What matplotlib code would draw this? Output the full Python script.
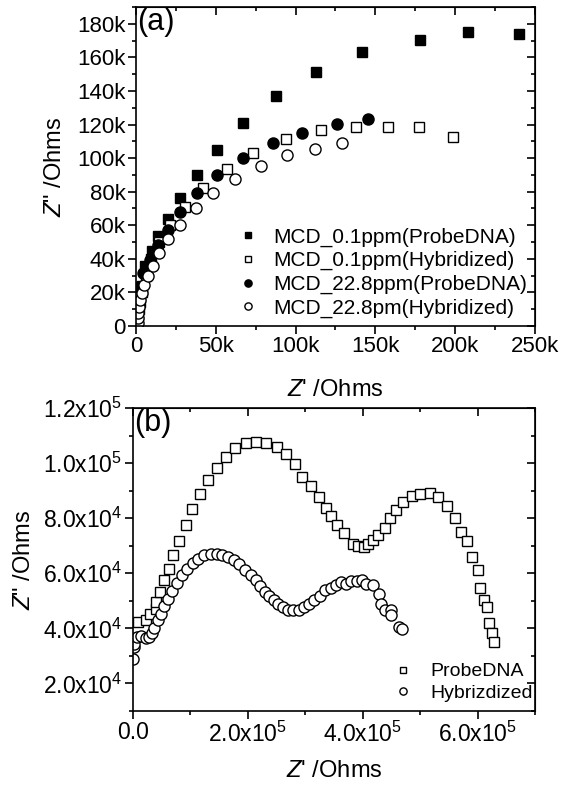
import matplotlib
matplotlib.use("Agg")
import matplotlib.pyplot as plt
from matplotlib.ticker import MultipleLocator, FuncFormatter
import numpy as np

plt.rcParams['font.family'] = ['Liberation Sans', 'DejaVu Sans']
plt.rcParams['mathtext.fontset'] = 'custom'
plt.rcParams['mathtext.rm'] = 'Liberation Sans'
plt.rcParams['mathtext.it'] = 'Liberation Sans:italic'

# --- panel (a) data, values in kOhm ---
a_sq_fill_x = [1.5, 2.5, 3.5, 5.6, 9.8, 14.0, 20.2, 27.6, 38.0, 50.8, 67.0, 87.7, 113.0, 141.4, 178.0, 207.8, 240.0]
a_sq_fill_y = [6.0, 14.0, 24.0, 35.5, 44.4, 53.4, 63.8, 76.0, 89.9, 104.7, 121.0, 137.0, 151.5, 163.0, 170.6, 175.4, 174.0]

a_sq_open_x = [2.0, 3.5, 6.0, 9.5, 14.5, 21.5, 30.7, 42.2, 56.8, 73.5, 94.0, 116.0, 137.6, 158.0, 177.5, 198.8]
a_sq_open_y = [10.0, 20.0, 30.0, 40.0, 50.0, 60.0, 71.0, 82.4, 93.7, 103.3, 111.2, 116.8, 118.8, 118.8, 118.8, 112.6]

a_ci_fill_x = [1.5, 4.6, 8.8, 13.6, 19.8, 27.6, 38.0, 50.8, 67.2, 85.6, 104.2, 125.7, 145.5]
a_ci_fill_y = [23.5, 31.5, 39.5, 48.0, 57.4, 68.0, 79.4, 89.9, 100.3, 108.9, 115.2, 120.2, 123.2]

a_ci_open_x = [1.0, 1.2, 1.5, 1.9, 2.5, 3.6, 5.0, 7.3, 10.4, 14.6, 20.2, 27.6, 37.4, 48.4, 62.0, 78.1, 94.8, 112.0, 129.4]
a_ci_open_y = [1.5, 4.5, 7.5, 11.5, 15.5, 19.9, 24.5, 29.9, 35.9, 43.5, 51.8, 60.4, 70.0, 79.4, 87.6, 95.3, 101.7, 105.6, 109.2]

a_labels = ['MCD_0.1ppm(ProbeDNA)', 'MCD_0.1ppm(Hybridized)',
            'MCD_22.8ppm(ProbeDNA)', 'MCD_22.8pm(Hybridized)']

# --- panel (b) data, values in kOhm ---
b_sq_x = [9.3, 22.0, 29.6, 39.4, 39.4, 47.0, 54.5, 62.6, 70.0, 80.0, 91.6, 103.0, 116.5, 131.0, 145.5,
          161.7, 178.5, 196.5, 213.9, 231.0, 250.0, 267.0, 283.0, 295.0, 309.5, 323.5, 335.6, 345.5,
          355.3, 367.0, 383.0, 391.8, 402.3, 409.0, 417.8, 426.5, 438.0, 448.0, 458.4, 471.0, 485.7,
          500.0, 516.5, 532.0, 546.6, 560.0, 571.6, 581.4, 590.7, 600.5, 604.6, 612.0, 616.2, 620.8,
          624.8, 628.5]
b_sq_y = [42.3, 42.9, 45.3, 47.2, 49.6, 53.2, 57.5, 61.7, 66.5, 71.7, 77.7, 83.3, 88.7, 93.8, 98.4,
          102.3, 105.6, 107.2, 107.6, 107.4, 105.9, 103.3, 99.6, 95.0, 91.6, 87.8, 83.7, 80.7,
          77.5, 74.7, 70.8, 69.8, 69.6, 70.8, 72.0, 73.8, 76.6, 80.1, 82.9, 85.9, 88.1,
          88.7, 89.0, 87.8, 84.5, 80.1, 75.0, 71.7, 65.9, 61.3, 54.8, 50.4, 47.7, 42.0,
          38.4, 35.0]

b_ci_x = [0.5, 1.0, 2.3, 6.4, 13.9, 22.0, 27.8, 32.5, 37.0, 42.9, 48.7, 54.5, 61.4, 68.4, 76.0,
          84.7, 93.4, 103.8, 113.6, 124.0, 135.0, 145.5, 155.2, 165.6, 175.6, 184.9, 194.8, 204.7,
          213.9, 222.0, 229.5, 237.0, 245.2, 252.7, 261.4, 270.0, 278.8, 289.2, 297.9, 306.6, 315.3,
          325.2, 333.9, 344.3, 353.0, 361.7, 371.6, 380.3, 390.0, 399.4, 406.3, 417.8, 427.8, 432.4,
          438.2, 448.7, 449.8, 463.0, 468.9]
b_ci_y = [29.0, 33.2, 34.4, 36.8, 37.1, 36.6, 36.8, 38.4, 40.2, 42.9, 45.3, 48.0, 50.8, 53.6, 56.5,
          59.3, 61.7, 63.7, 65.3, 66.5, 66.9, 66.9, 66.8, 65.9, 64.7, 63.2, 61.3, 59.3,
          57.5, 55.3, 53.2, 51.6, 50.2, 49.0, 47.7, 46.8, 46.5, 46.8, 47.7, 49.0, 50.2,
          51.6, 53.8, 54.8, 55.6, 56.8, 56.2, 57.2, 57.2, 57.5, 56.0, 55.6, 52.6, 48.7,
          46.8, 46.5, 44.7, 40.5, 39.6]

b_labels = ['ProbeDNA', 'Hybrizdized']

K = 1e3
TICK_FS = 16
LBL_FS = 17


def k_fmt(v, pos):
    if abs(v) < 1e-9:
        return '0'
    return f'{v / 1e3:.0f}k'


def sci_fmt(v, pos):
    if abs(v) < 1e-9:
        return '0.0'
    e = int(np.floor(np.log10(abs(v))))
    m = v / 10 ** e
    return f'{m:.1f}x10$^{e}$'


def style_axes(ax, xmaj, xmin, ymaj, ymin, fs):
    for s in ax.spines.values():
        s.set_linewidth(1.2)
    ax.xaxis.set_major_locator(MultipleLocator(xmaj))
    ax.xaxis.set_minor_locator(MultipleLocator(xmin))
    ax.yaxis.set_major_locator(MultipleLocator(ymaj))
    ax.yaxis.set_minor_locator(MultipleLocator(ymin))
    ax.tick_params(which='both', direction='out', width=1.2, labelsize=fs,
                   top=False, right=False, pad=2)
    ax.tick_params(which='major', length=5.5)
    ax.tick_params(which='minor', length=3)
    # inward ticks on top and right, like Origin
    top = ax.secondary_xaxis('top')
    top.xaxis.set_major_locator(MultipleLocator(xmaj))
    top.xaxis.set_minor_locator(MultipleLocator(xmin))
    top.tick_params(which='both', direction='in', width=1.2, labeltop=False)
    top.tick_params(which='major', length=5.5)
    top.tick_params(which='minor', length=3)
    right = ax.secondary_yaxis('right')
    right.yaxis.set_major_locator(MultipleLocator(ymaj))
    right.yaxis.set_minor_locator(MultipleLocator(ymin))
    right.tick_params(which='both', direction='in', width=1.2, labelright=False)
    right.tick_params(which='major', length=5.5)
    right.tick_params(which='minor', length=3)


fig = plt.figure(figsize=(5.69, 7.88), dpi=100)

# ---------------- (a) ----------------
ax1 = fig.add_axes([0.239, 0.5863, 0.701, 0.4048])
ax1.plot(np.array(a_sq_fill_x) * K, np.array(a_sq_fill_y) * K, 's', ms=7.5, mfc='black', mec='black',
         mew=1.0, ls='none', label=a_labels[0])
ax1.plot(np.array(a_sq_open_x) * K, np.array(a_sq_open_y) * K, 's', ms=7.5, mfc='white', mec='black',
         mew=1.0, ls='none', label=a_labels[1])
ax1.plot(np.array(a_ci_fill_x) * K, np.array(a_ci_fill_y) * K, 'o', ms=8, mfc='black', mec='black',
         mew=1.0, ls='none', label=a_labels[2])
ax1.plot(np.array(a_ci_open_x) * K, np.array(a_ci_open_y) * K, 'o', ms=8, mfc='white', mec='black',
         mew=1.0, ls='none', label=a_labels[3])
ax1.set_xlim(0, 250e3)
ax1.set_ylim(0, 190e3)
style_axes(ax1, 50e3, 25e3, 20e3, 10e3, TICK_FS)
ax1.xaxis.set_major_formatter(FuncFormatter(k_fmt))
ax1.yaxis.set_major_formatter(FuncFormatter(k_fmt))
ax1.set_xlabel(r"$\mathit{Z}$' /Ohms", fontsize=LBL_FS)
ax1.set_ylabel(r'$\mathit{Z}$" /Ohms', fontsize=LBL_FS)
ax1.xaxis.set_label_coords(0.5, -0.165)
ax1.yaxis.set_label_coords(-0.175, 0.5)
ax1.text(0.003, 1.0, '(a)', transform=ax1.transAxes, fontsize=22, ha='left', va='top')
ax1.legend(loc='lower right', bbox_to_anchor=(0.98, 0.025), frameon=False, fontsize=15,
           markerscale=0.65, handlelength=1.0, handletextpad=0.7, labelspacing=0.22,
           borderaxespad=0, borderpad=0)

# ---------------- (b) ----------------
ax2 = fig.add_axes([0.2337, 0.0977, 0.7065, 0.3845])
ax2.plot(np.array(b_sq_x) * K, np.array(b_sq_y) * K, 's', ms=7.5, mfc='white', mec='black',
         mew=1.0, ls='none', label=b_labels[0])
ax2.plot(np.array(b_ci_x) * K, np.array(b_ci_y) * K, 'o', ms=8, mfc='white', mec='black',
         mew=1.0, ls='none', label=b_labels[1])
ax2.set_xlim(0, 700e3)
ax2.set_ylim(10e3, 120e3)
style_axes(ax2, 200e3, 100e3, 20e3, 10e3, 16.5)
ax2.xaxis.set_major_formatter(FuncFormatter(sci_fmt))
ax2.yaxis.set_major_formatter(FuncFormatter(sci_fmt))
ax2.set_xlabel(r"$\mathit{Z}$' /Ohms", fontsize=LBL_FS)
ax2.set_ylabel(r'$\mathit{Z}$" /Ohms', fontsize=LBL_FS)
ax2.xaxis.set_label_coords(0.5, -0.162)
ax2.yaxis.set_label_coords(-0.244, 0.5)
ax2.text(0.003, 1.0, '(b)', transform=ax2.transAxes, fontsize=22, ha='left', va='top')
ax2.legend(loc='lower right', bbox_to_anchor=(0.995, 0.03), frameon=False, fontsize=14,
           markerscale=0.65, handlelength=1.0, handletextpad=0.9, labelspacing=0.2,
           borderaxespad=0, borderpad=0)

fig.savefig('out.png', dpi=100)
